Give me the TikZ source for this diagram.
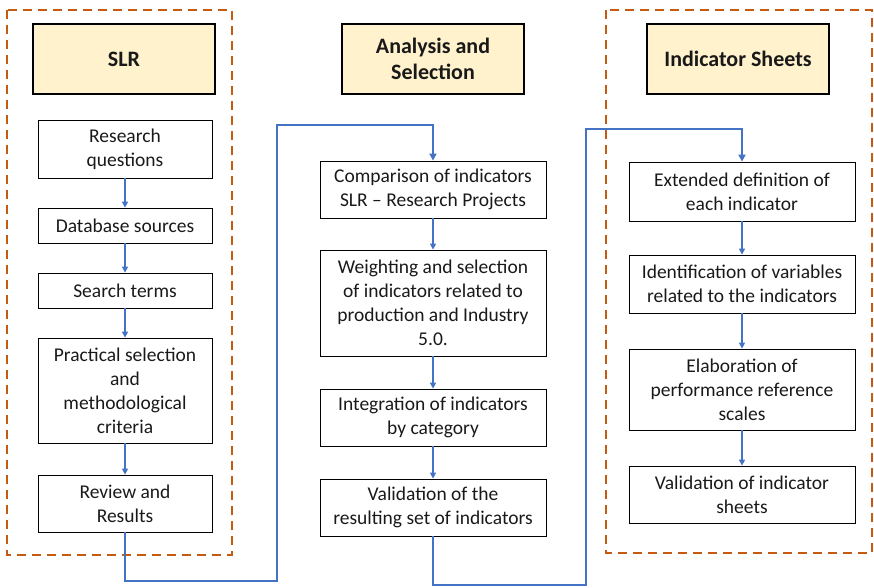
\documentclass[tikz,border=0pt]{standalone}
\usepackage{fontspec}
\setmainfont{Carlito}
\usepackage{tikz}
\usetikzlibrary{arrows.meta, positioning, calc}
\usepackage{xcolor}
\definecolor{frameOrange}{RGB}{197, 90, 17}
\definecolor{flowBlue}{RGB}{68, 114, 196}
\definecolor{headGold}{RGB}{255, 242, 204}

\begin{document}
\begin{tikzpicture}[
    x=1pt, y=-1pt,
    every node/.style={font=\fontsize{19.5}{24}\selectfont, text=black!90},
    phase/.style={rectangle, draw, line width=0.8pt, align=center, inner sep=2pt, minimum width=#1},
    phase/.default={174pt},
    header/.style={rectangle, draw, fill=headGold, line width=1.7pt, align=center, minimum width=182pt, minimum height=70pt, font=\fontsize{22}{26}\selectfont\bfseries},
    frame/.style={draw=frameOrange, line width=1.6pt, dash pattern=on 9pt off 6pt},
    arrow/.style={-{Triangle[length=6pt, width=6pt]}, flowBlue, line width=1.4pt},
    link/.style={-{Triangle[length=7pt, width=7pt]}, flowBlue, line width=2pt}
]
\useasboundingbox (0,0) rectangle (874,588);

% Dashed frames
\draw[frame] (7,10) rectangle (232,555);
\draw[frame] (606,10) rectangle (872,553);

% Headers
\node[header] (hSLR) at (124,59) {SLR};
\node[header] (hAnalysis) at (433,59) {Analysis and\\Selection};
\node[header] (hSheets) at (738,59) {Indicator Sheets};

% Column 1: SLR
\node[phase, minimum height=58pt] (questions) at (125,149) {Research\\questions};
\node[phase, minimum height=35pt] (sources) at (125,225.5) {Database sources};
\node[phase, minimum height=35pt] (terms) at (125,290.5) {Search terms};
\node[phase, minimum height=105pt] (criteria) at (125,390.5) {Practical selection\\and\\methodological\\criteria};
\node[phase, minimum height=57pt] (review) at (125,503.5) {Review and\\Results};

% Column 2: Analysis and Selection
\node[phase=226pt, minimum height=57pt] (compare) at (433,189.5) {Comparison of indicators\\SLR -- Research Projects};
\node[phase=226pt, minimum height=106pt] (weight) at (433,303) {Weighting and selection\\of indicators related to\\production and Industry\\5.0.};
\node[phase=226pt, minimum height=57pt] (integrate) at (433,417.5) {Integration of indicators\\by category};
\node[phase=226pt, minimum height=57pt] (validset) at (433,507.5) {Validation of the\\resulting set of indicators};

% Column 3: Indicator Sheets
\node[phase=226pt, minimum height=59pt] (define) at (742,191.5) {Extended definition of\\each indicator};
\node[phase=226pt, minimum height=58pt] (variables) at (742,284) {Identification of variables\\related to the indicators};
\node[phase=226pt, minimum height=81pt] (scales) at (742,389.5) {Elaboration of\\performance reference\\scales};
\node[phase=226pt, minimum height=57pt] (validsheet) at (742,494.5) {Validation of indicator\\sheets};

% Arrows inside the columns
\draw[arrow] (questions) -- (sources);
\draw[arrow] (sources) -- (terms);
\draw[arrow] (terms) -- (criteria);
\draw[arrow] (criteria) -- (review);

\draw[arrow] (compare) -- (weight);
\draw[arrow] (weight) -- (integrate);
\draw[arrow] (integrate) -- (validset);

\draw[arrow] (define) -- (variables);
\draw[arrow] (variables) -- (scales);
\draw[arrow] (scales) -- (validsheet);

% Links between the columns
\coordinate (lowA) at (277,581);
\coordinate (highA) at (277,125);
\draw[link, rounded corners=0pt] (review.south) |- (lowA) -- (highA) -| (compare.north);

\coordinate (lowB) at (586,585);
\coordinate (highB) at (586,129);
\draw[link] (validset.south) |- (lowB) -- (highB) -| (define.north);

\end{tikzpicture}
\end{document}
